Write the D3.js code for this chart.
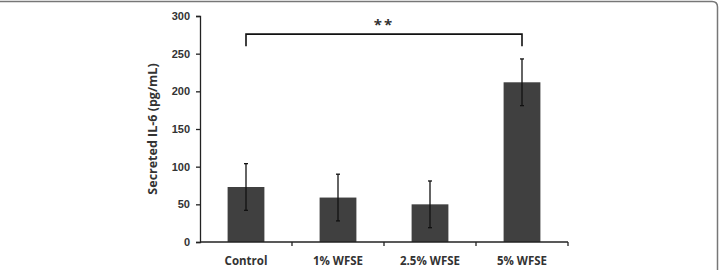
<!DOCTYPE html>
<html>
<head>
<meta charset="utf-8">
<script src="https://cdn.jsdelivr.net/npm/d3@7"></script>
<style>
  body { margin: 0; background: #fff; }
  svg { display: block; font-family: "Open Sans", "DejaVu Sans", sans-serif; }
</style>
</head>
<body>
<svg id="chart" width="719" height="270"></svg>
<script>
// Chart data
const categories = ["Control", "1% WFSE", "2.5% WFSE", "5% WFSE"];
const means = [73, 59, 50, 212];
const errors = [31, 31, 31, 31];
const yTicks = [0, 50, 100, 150, 200, 250, 300];

const svg = d3.select("#chart");
const margin = { top: 16, left: 200, right: 151, bottom: 28 };
const width = 719, height = 270;

// Frame around the figure (top and right edges visible)
svg.append("path")
    .attr("d", "M0,1.5 H712 Q717.5,1.5 717.5,7 V270")
    .attr("fill", "none")
    .attr("stroke", "#777")
    .attr("stroke-width", 1.5);

const x = d3.scaleBand()
    .domain(categories)
    .range([margin.left, width - margin.right])
    .paddingInner(0)
    .paddingOuter(0);

const y = d3.scaleLinear()
    .domain([0, 300])
    .range([height - margin.bottom, margin.top]);

const barW = x.bandwidth() * 0.4;

// Bars
svg.append("g").selectAll("rect")
    .data(categories)
    .join("rect")
    .attr("x", d => x(d) + x.bandwidth() / 2 - barW / 2)
    .attr("y", (d, i) => y(means[i]))
    .attr("width", barW)
    .attr("height", (d, i) => y(0) - y(means[i]))
    .attr("fill", "#404040");

// Error bars
const eb = svg.append("g").attr("stroke", "#111").attr("stroke-width", 1.3);
categories.forEach((c, i) => {
    const cx = x(c) + x.bandwidth() / 2;
    const top = y(means[i] + errors[i]);
    const bot = y(means[i] - errors[i]);
    eb.append("line").attr("x1", cx).attr("x2", cx).attr("y1", top).attr("y2", bot);
    eb.append("line").attr("x1", cx - 2).attr("x2", cx + 2).attr("y1", top).attr("y2", top);
    eb.append("line").attr("x1", cx - 2).attr("x2", cx + 2).attr("y1", bot).attr("y2", bot);
});

// Y axis
const yAxis = svg.append("g")
    .attr("transform", `translate(${margin.left},0)`)
    .call(d3.axisLeft(y).tickValues(yTicks).tickSize(4).tickPadding(6));
yAxis.select(".domain").attr("stroke", "#222").attr("stroke-width", 1.3);
yAxis.selectAll(".tick line").attr("stroke", "#222").attr("stroke-width", 1.3);
yAxis.selectAll("text")
    .attr("font-size", 11).attr("font-weight", "bold").attr("fill", "#333");

// X axis with ticks at category boundaries
const xAxis = svg.append("g")
    .attr("transform", `translate(0,${y(0)})`);
xAxis.append("line")
    .attr("x1", margin.left).attr("x2", width - margin.right)
    .attr("stroke", "#222").attr("stroke-width", 1.3);
xAxis.selectAll("line.tk")
    .data(categories)
    .join("line")
    .attr("class", "tk")
    .attr("x1", d => x(d) + x.bandwidth())
    .attr("x2", d => x(d) + x.bandwidth())
    .attr("y1", 0).attr("y2", 4)
    .attr("stroke", "#222").attr("stroke-width", 1.3);
xAxis.selectAll("text")
    .data(categories)
    .join("text")
    .attr("x", d => x(d) + x.bandwidth() / 2)
    .attr("y", 23)
    .attr("text-anchor", "middle")
    .attr("font-size", 11.5)
    .attr("font-weight", "bold")
    .attr("fill", "#333")
    .text(d => d);

// Y label
svg.append("text")
    .attr("transform", `translate(157,${y(150)}) rotate(-90)`)
    .attr("text-anchor", "middle")
    .attr("font-size", 12.5)
    .attr("font-weight", "bold")
    .attr("fill", "#333")
    .text("Secreted IL-6 (pg/mL)");

// Significance bracket between Control and 5% WFSE
const x1 = x(categories[0]) + x.bandwidth() / 2;
const x2 = x(categories[3]) + x.bandwidth() / 2;
const by = y(276);
svg.append("path")
    .attr("d", `M${x1},${y(260)} V${by} H${x2} V${y(260)}`)
    .attr("fill", "none")
    .attr("stroke", "#111")
    .attr("stroke-width", 1.6);
svg.append("text")
    .attr("x", (x1 + x2) / 2)
    .attr("y", by - 4)
    .attr("text-anchor", "middle")
    .attr("font-size", 15)
    .attr("font-weight", "bold")
    .attr("letter-spacing", 2)
    .attr("fill", "#333")
    .text("**");
</script>
</body>
</html>
